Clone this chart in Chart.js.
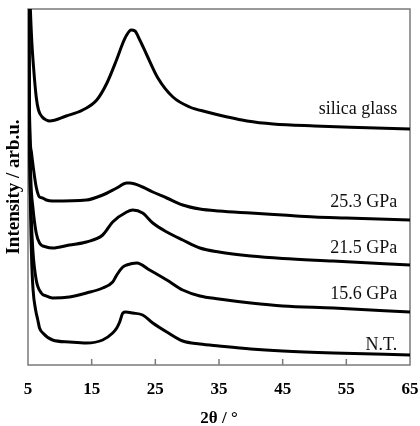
<!DOCTYPE html>
<html>
<head>
<meta charset="utf-8">
<script src="https://cdn.jsdelivr.net/npm/chart.js@4/dist/chart.umd.min.js"></script>
<style>
  html, body { margin: 0; padding: 0; background: #fff; }
  #wrap { width: 420px; height: 426px; }
</style>
</head>
<body>
<div id="wrap"><canvas id="c" width="420" height="426"></canvas></div>
<script>
// XRD patterns: 2θ (deg) vs. intensity (arb. units, stacked)
const xTicks = [5, 15, 25, 35, 45, 55, 65];
const seriesNames = ['silica glass', '25.3 GPa', '21.5 GPa', '15.6 GPa', 'N.T.'];

const silicaX = [5.0, 5.3, 5.6, 5.87, 6.29, 6.65, 7.24, 7.87, 8.39, 11.0, 13.6, 15.8, 17.4, 18.9, 19.9, 20.5, 21.2, 21.8, 22.56, 23.66, 25.4, 27.76, 30.4, 33.1, 36.3, 39.4, 43.5, 50.0, 57.0, 65.0];
const silicaY = [460, 370, 323, 298, 268, 255, 248, 245, 244, 249, 255, 265, 282, 305, 322, 330, 335, 334, 325, 310, 287, 268, 258, 253, 248, 244, 241, 239, 237.5, 236];

const p253X = [5.0, 5.15, 5.3, 5.55, 5.8, 6.29, 6.81, 7.28, 7.87, 8.86, 14.17, 16.73, 18.94, 20.5, 21.0, 23.0, 24.6, 26.8, 29.3, 32.0, 35.0, 40.0, 45.0, 50.0, 55.0, 65.0];
const p253Y = [460, 300, 232, 212, 199, 178, 168, 167, 165, 164, 165, 170, 177, 182, 182, 178, 173, 167, 160, 156, 154, 152, 150, 148, 147, 145];

const p215X = [5.0, 5.2, 5.45, 5.76, 6.29, 6.81, 7.87, 8.86, 11.5, 14.17, 16.73, 18.3, 20.5, 21.46, 23.0, 24.6, 26.8, 29.3, 32.0, 35.0, 40.0, 45.0, 52.9, 65.0];
const p215Y = [460, 260, 185, 158, 132, 122, 118, 117, 120, 123, 130, 143, 153, 155, 152, 142, 133, 125, 117, 113, 109, 106.5, 104, 100];

const p156X = [5.0, 5.25, 5.5, 5.76, 6.29, 7.08, 7.87, 8.86, 11.5, 14.17, 16.73, 18.3, 18.94, 19.9, 20.5, 22.1, 24.1, 26.8, 29.3, 32.0, 35.0, 40.0, 45.0, 53.0, 65.0];
const p156Y = [460, 220, 150, 115, 85, 72, 69, 67, 68, 72, 77, 83, 90, 98, 100, 102, 95, 85, 75, 69, 66, 62, 59, 57, 53];

const ntX = [5.0, 5.3, 5.55, 5.8, 6.2, 6.54, 6.81, 7.33, 8.86, 11.5, 14.17, 16.73, 18.3, 18.94, 19.4, 19.9, 20.35, 21.46, 23.0, 24.6, 26.8, 29.3, 32.0, 35.0, 40.0, 45.0, 53.0, 65.0];
const ntY = [460, 200, 110, 75, 55, 45, 37, 32, 25, 23, 22, 25, 32, 37, 43, 52, 53, 52, 50, 42, 33, 24, 21, 19, 16, 14, 12, 10];

const seriesX = [silicaX, p253X, p215X, p156X, ntX];
const seriesY = [silicaY, p253Y, p215Y, p156Y, ntY];

const SERIF = '"Liberation Serif", "Times New Roman", serif';
const FRAME = '#7a7a7a';

const datasets = seriesNames.map((name, i) => ({
  label: name,
  data: seriesX[i].map((x, k) => ({ x: x, y: seriesY[i][k] })),
  borderColor: '#000',
  borderWidth: 3,
  pointRadius: 0,
  cubicInterpolationMode: 'monotone',
  fill: false
}));

// frame around the plot, inward tick marks on the 2θ axis, and curve names
const decorations = {
  id: 'decorations',
  beforeDatasetsDraw(chart) {
    const { ctx, chartArea: a, scales: { x } } = chart;
    ctx.save();
    ctx.strokeStyle = FRAME;
    ctx.lineWidth = 1.5;
    ctx.strokeRect(a.left, a.top, a.right - a.left, a.bottom - a.top);
    xTicks.slice(1, -1).forEach(v => {
      const px = x.getPixelForValue(v);
      ctx.beginPath();
      ctx.moveTo(px, a.bottom);
      ctx.lineTo(px, a.bottom - 6);
      ctx.stroke();
    });
    ctx.restore();
  },
  afterDatasetsDraw(chart, args, opts) {
    const { ctx, scales: { x, y } } = chart;
    ctx.save();
    ctx.fillStyle = '#111';
    ctx.font = '18px ' + SERIF;
    ctx.textAlign = 'right';
    ctx.textBaseline = 'middle';
    seriesNames.forEach((name, i) => {
      const ys = seriesY[i];
      const py = y.getPixelForValue(ys[ys.length - 1]) - opts.lift[i];
      ctx.fillText(name, x.getPixelForValue(opts.labelAt), py);
    });
    ctx.restore();
  }
};

new Chart(document.getElementById('c'), {
  type: 'line',
  data: { datasets },
  options: {
    responsive: false,
    animation: false,
    events: [],
    layout: { padding: { top: 9, right: 10, left: 0, bottom: 0 } },
    plugins: {
      legend: { display: false },
      tooltip: { enabled: false },
      decorations: { labelAt: 63.0, lift: [20, 18, 17, 18, 10] }
    },
    scales: {
      x: {
        type: 'linear',
        min: 5,
        max: 65,
        afterFit: s => { s.height = 61; s.paddingLeft = 0; s.paddingRight = 0; },
        afterBuildTicks: s => { s.ticks = xTicks.map(v => ({ value: v })); },
        grid: { display: false },
        border: { display: false },
        ticks: {
          color: '#000',
          padding: 6,
          maxRotation: 0,
          font: { family: SERIF, size: 17, weight: 'bold', lineHeight: 1.2 }
        },
        title: {
          display: true,
          text: '2θ / °',
          color: '#000',
          padding: { top: 0, bottom: -3 },
          font: { family: SERIF, size: 17, weight: 'bold', lineHeight: 1.2 }
        }
      },
      y: {
        type: 'linear',
        min: 0,
        max: 356,
        afterFit: s => { s.width = 28; s.paddingTop = 0; s.paddingBottom = 0; },
        grid: { display: false },
        border: { display: false },
        ticks: { display: false },
        title: {
          display: true,
          text: 'Intensity / arb.u.',
          color: '#000',
          padding: { top: 4, bottom: 0 },
          font: { family: SERIF, size: 19, weight: 'bold', lineHeight: 1.1 }
        }
      }
    }
  },
  plugins: [decorations]
});
</script>
</body>
</html>
